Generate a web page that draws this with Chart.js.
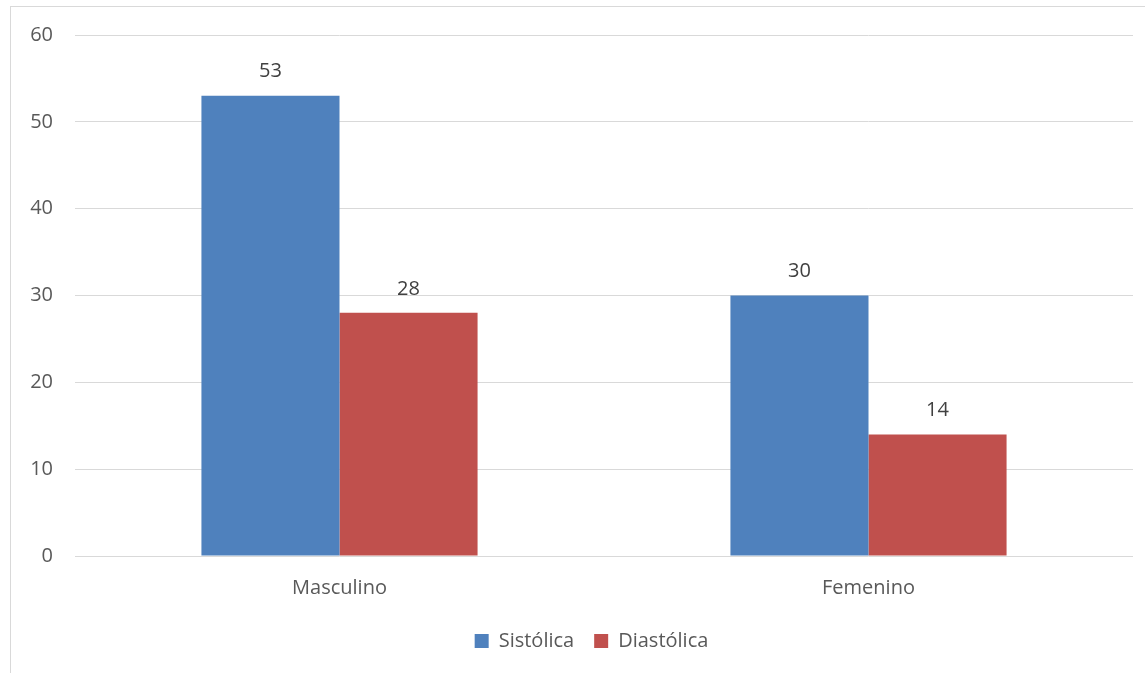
<!DOCTYPE html>
<html>
<head>
<meta charset="utf-8">
<script src="https://cdn.jsdelivr.net/npm/chart.js@4/dist/chart.umd.min.js"></script>
<style>
  html, body { margin: 0; padding: 0; background: #fff; overflow: hidden; }
  #wrap { position: relative; width: 1145px; height: 673px; }
  #frame { position: absolute; left: 10px; top: 6px; width: 1200px; height: 700px; border: 1px solid #d9d9d9; box-sizing: border-box; }
  canvas { position: absolute; left: 0; top: 0; }
</style>
</head>
<body>
<div id="wrap">
  <div id="frame"></div>
  <canvas id="chart" width="1145" height="673"></canvas>
</div>
<script>
// Presión arterial por sexo
const categories = ['Masculino', 'Femenino'];
const sistolica = [53, 30];
const diastolica = [28, 14];
const yTicks = [0, 10, 20, 30, 40, 50, 60];

const FONT = '"Open Sans", sans-serif';
const SIZE = 20;

// draws the value above each bar
const valueLabels = {
    id: 'valueLabels',
    afterDatasetsDraw(chart) {
        const ctx = chart.ctx;
        ctx.save();
        ctx.font = SIZE + 'px ' + FONT;
        ctx.fillStyle = '#404040';
        ctx.textAlign = 'center';
        ctx.textBaseline = 'middle';
        chart.data.datasets.forEach((ds, i) => {
            chart.getDatasetMeta(i).data.forEach((bar, j) => {
                ctx.fillText(ds.data[j], bar.x, bar.y - 24);
            });
        });
        ctx.restore();
    }
};

// legend sits a bit right of canvas center in the original
const legendShift = {
    id: 'legendShift',
    afterLayout(chart) {
        chart.legend.left += 25;
        chart.legend.right += 25;
    }
};

new Chart(document.getElementById('chart'), {
    type: 'bar',
    data: {
        labels: categories,
        datasets: [
            { label: 'Sistólica', data: sistolica, backgroundColor: '#4f81bd' },
            { label: 'Diastólica', data: diastolica, backgroundColor: '#c0504d' }
        ]
    },
    options: {
        responsive: false,
        animation: false,
        layout: { padding: { top: 35, right: 12, left: 0, bottom: 12 } },
        datasets: { bar: { barPercentage: 1, categoryPercentage: 0.522 } },
        plugins: {
            tooltip: { enabled: false },
            legend: {
                position: 'bottom',
                labels: {
                    color: '#595959',
                    font: { family: FONT, size: SIZE },
                    boxWidth: 14,
                    boxHeight: 14,
                    padding: 20
                }
            }
        },
        scales: {
            y: {
                min: 0,
                max: 60,
                afterBuildTicks: s => { s.ticks = yTicks.map(v => ({ value: v })); },
                afterFit: s => { s.width = 75; },
                border: { display: false },
                grid: { color: '#d9d9d9', drawTicks: false },
                ticks: { color: '#595959', font: { family: FONT, size: SIZE }, padding: 22 }
            },
            x: {
                afterFit: s => { s.height = 55; },
                border: { display: false },
                grid: { display: false, drawTicks: false },
                ticks: { color: '#595959', font: { family: FONT, size: SIZE }, padding: 20 }
            }
        }
    },
    plugins: [valueLabels, legendShift]
});
</script>
</body>
</html>
